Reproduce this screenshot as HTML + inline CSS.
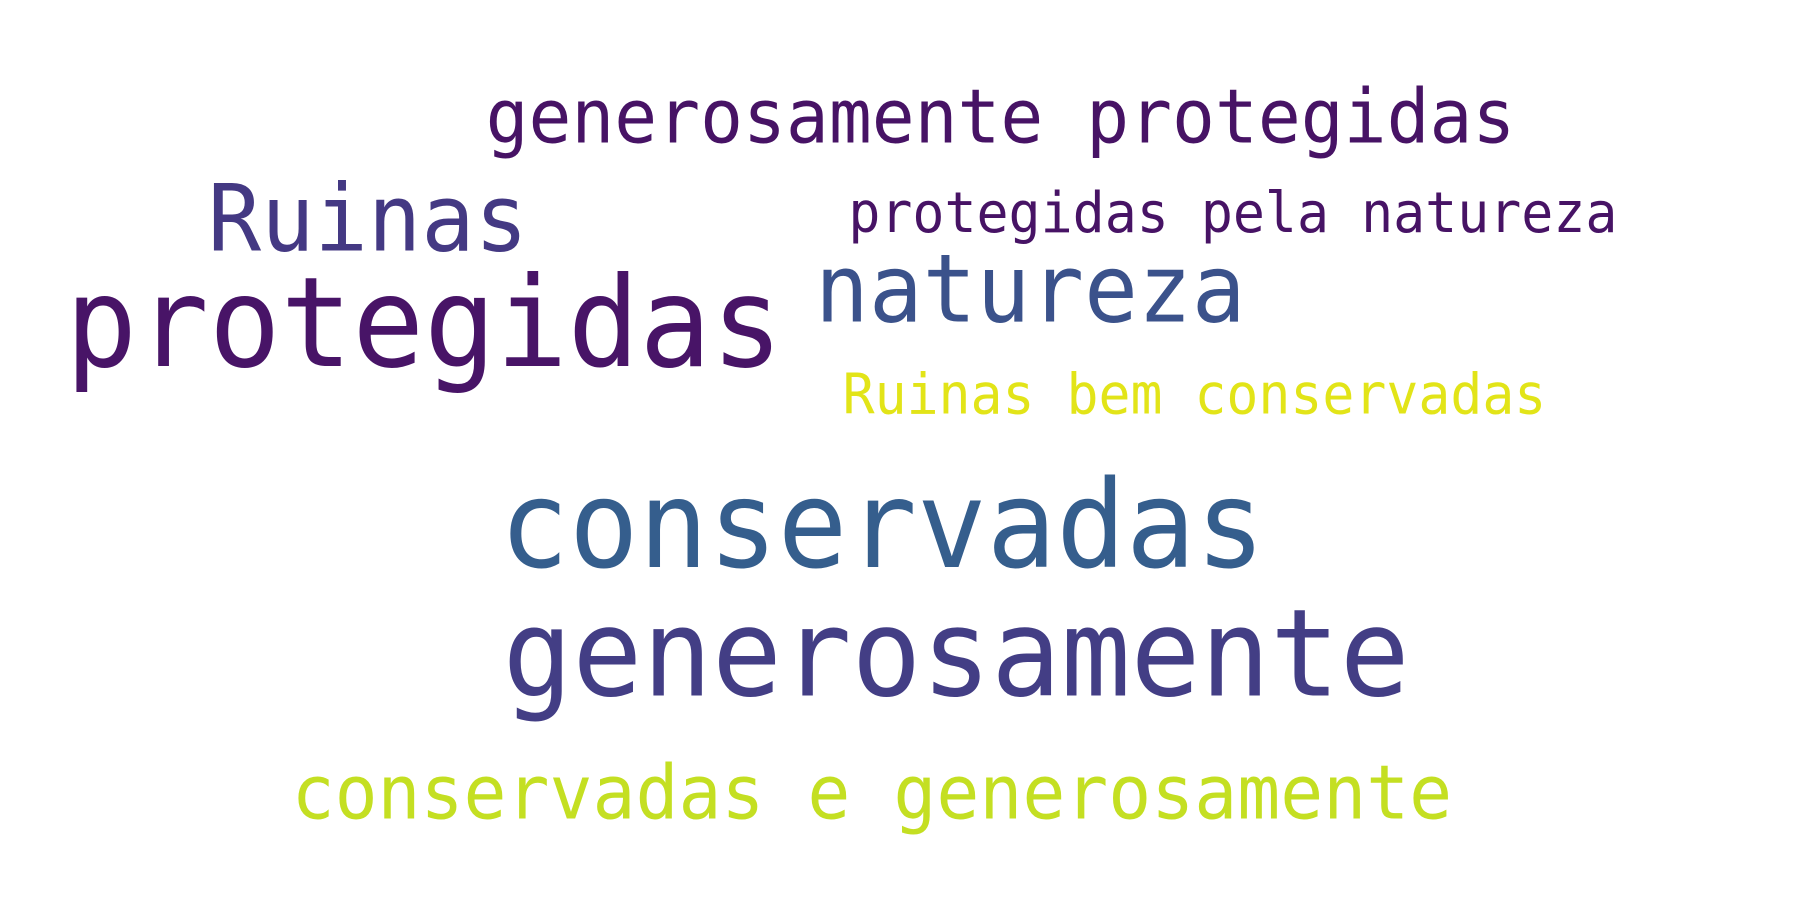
<!DOCTYPE html>
<html><head><meta charset="utf-8"><style>
html,body{margin:0;padding:0;background:#fff;}
svg{display:block;}
text{font-family:"DejaVu Sans Mono","Liberation Mono",monospace;}
</style></head><body>
<svg width="1800" height="900" viewBox="0 0 1568 784" preserveAspectRatio="none" xmlns="http://www.w3.org/2000/svg">
<rect width="1568" height="784" fill="#fff"/>
<text x="423" y="124" font-size="65" fill="#471365" textLength="897" lengthAdjust="spacingAndGlyphs">generosamente protegidas</text>
<text x="181" y="218" font-size="81" fill="#443983" textLength="279" lengthAdjust="spacingAndGlyphs">Ruinas</text>
<text x="739" y="202" font-size="49" fill="#471365" textLength="670" lengthAdjust="spacingAndGlyphs">protegidas pela natureza</text>
<text x="710" y="280" font-size="82" fill="#3b528b" textLength="375" lengthAdjust="spacingAndGlyphs">natureza</text>
<text x="57" y="319" font-size="109" fill="#481467" textLength="625" lengthAdjust="spacingAndGlyphs">protegidas</text>
<text x="734" y="360" font-size="49" fill="#e2e418" textLength="613" lengthAdjust="spacingAndGlyphs">Ruinas bem conservadas</text>
<text x="435" y="494" font-size="106" fill="#355e8d" textLength="667" lengthAdjust="spacingAndGlyphs">conservadas</text>
<text x="438" y="606" font-size="106" fill="#433e85" textLength="790" lengthAdjust="spacingAndGlyphs">generosamente</text>
<text x="254" y="713" font-size="65" fill="#c4df22" textLength="1011" lengthAdjust="spacingAndGlyphs">conservadas e generosamente</text>
</svg>
</body></html>
